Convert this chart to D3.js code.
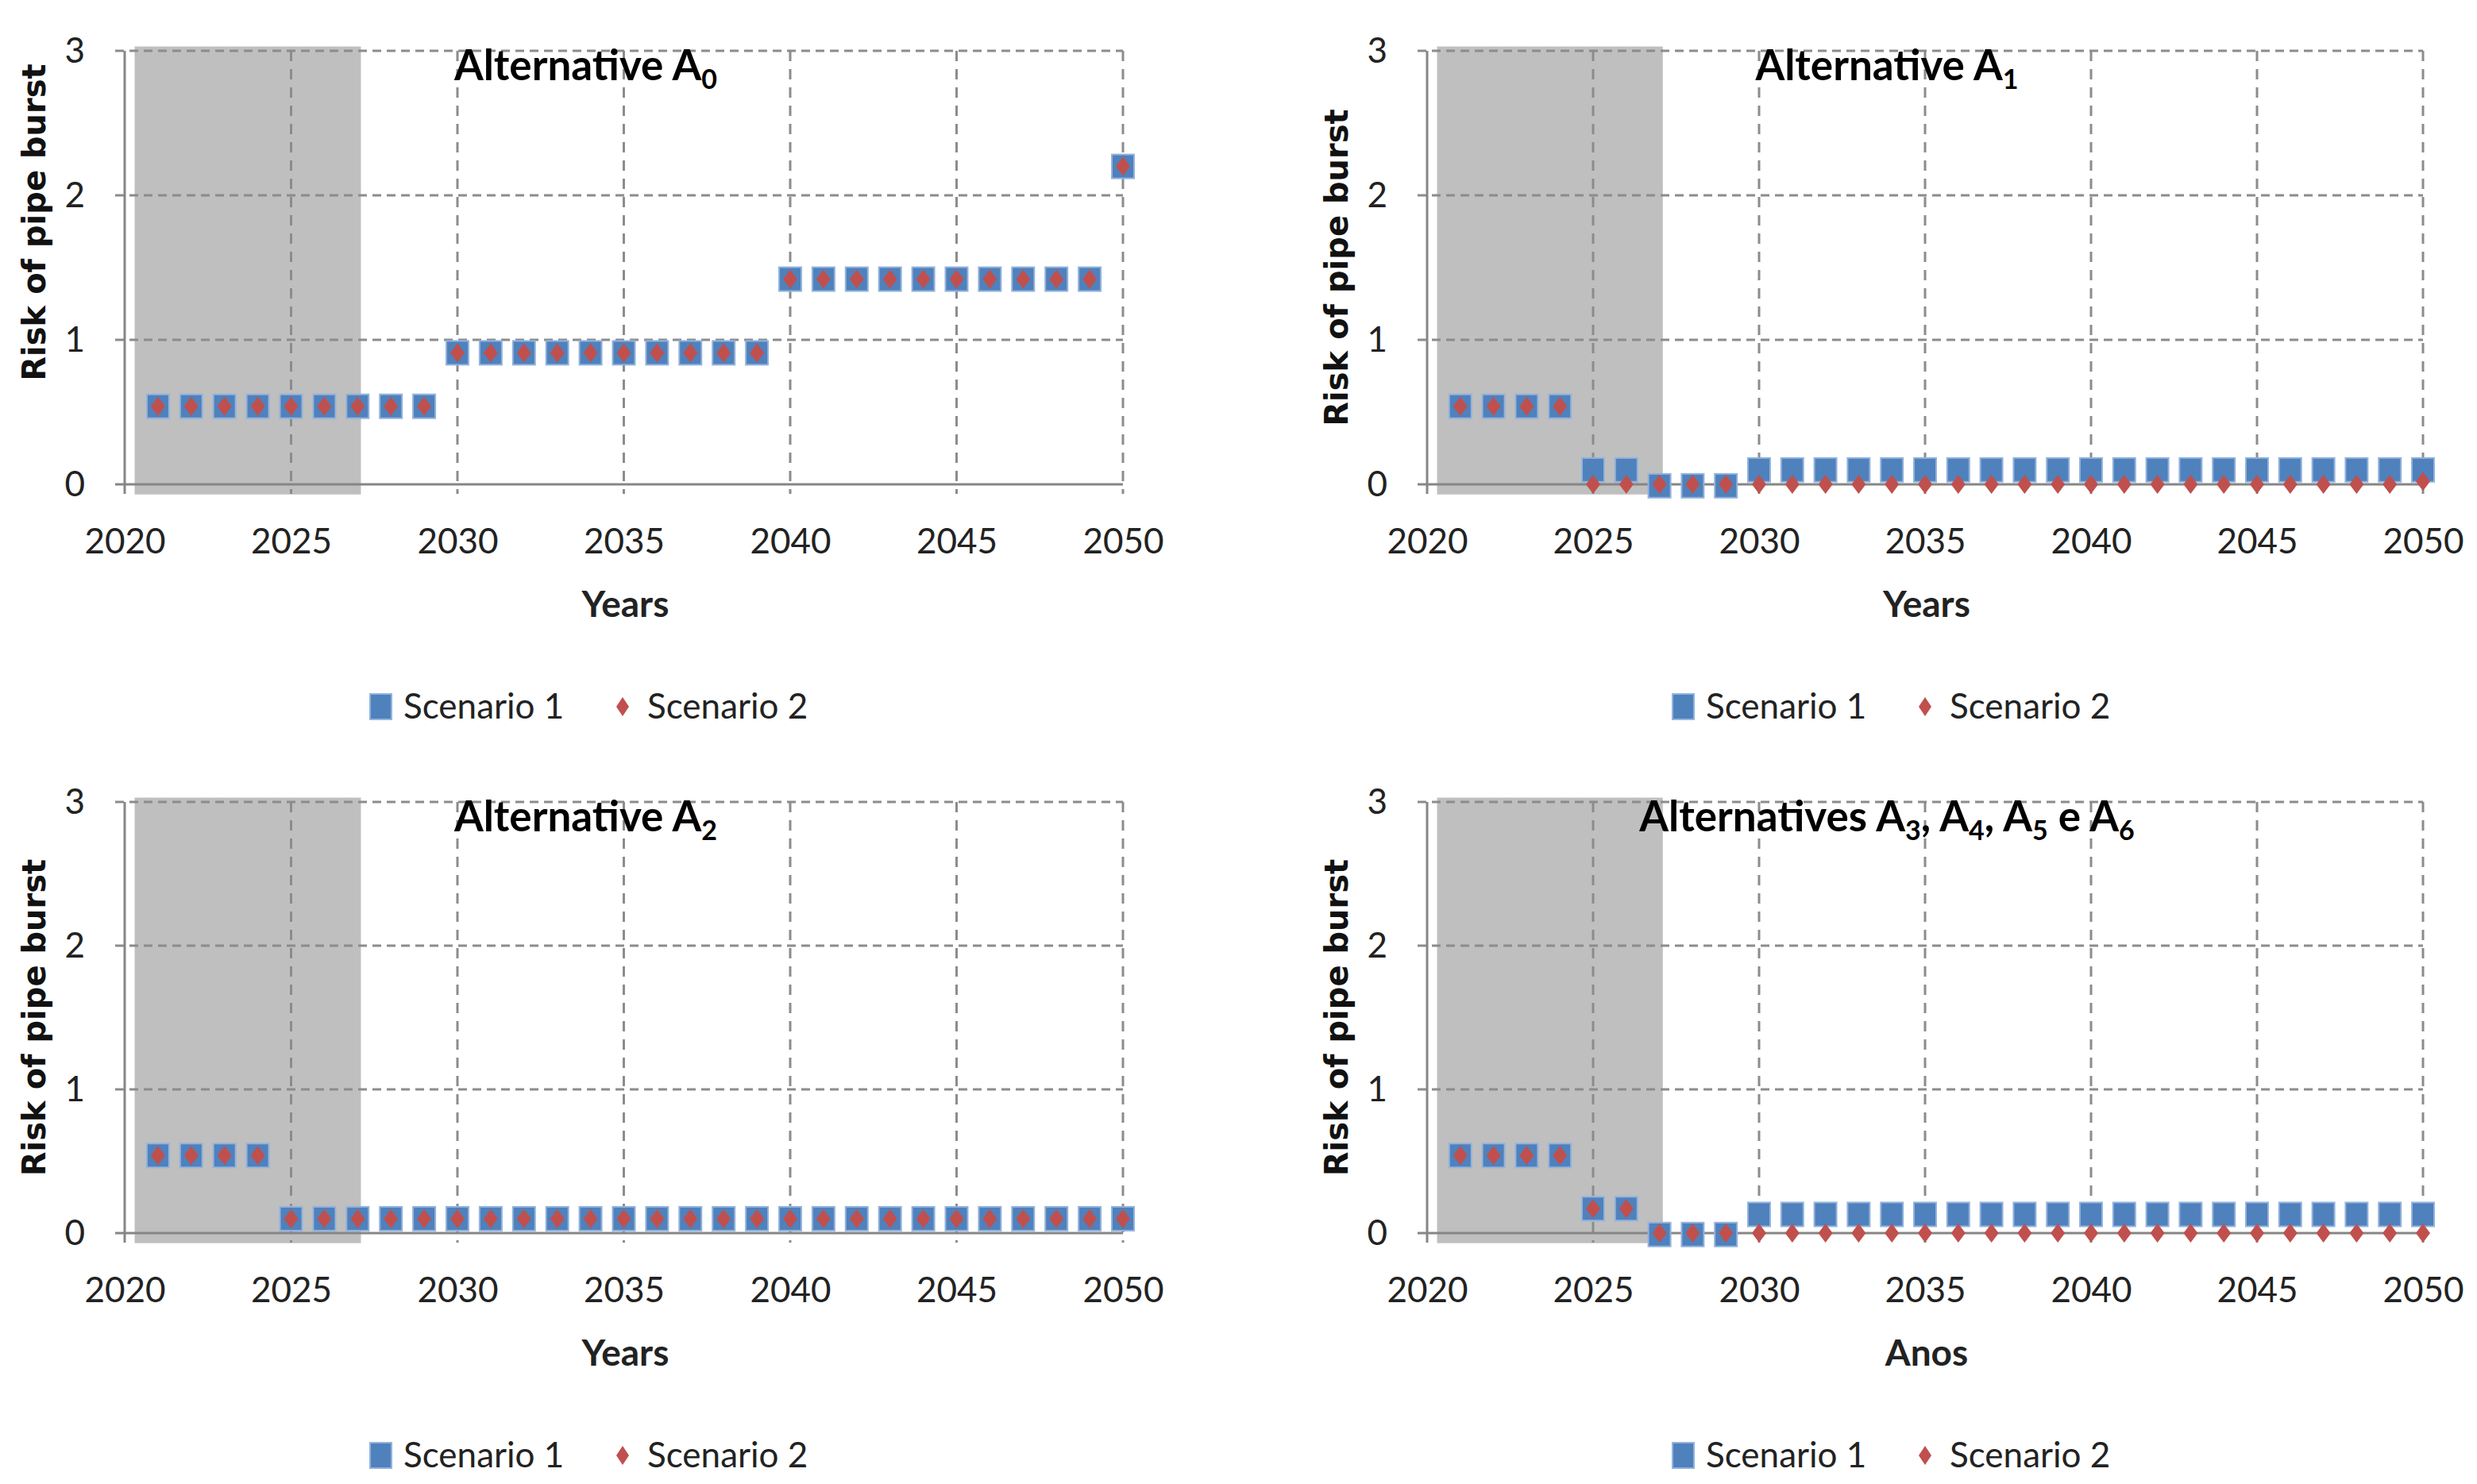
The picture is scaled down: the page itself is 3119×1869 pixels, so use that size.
<!DOCTYPE html>
<html>
<head>
<meta charset="utf-8">
<script src="https://cdn.jsdelivr.net/npm/d3@7"></script>
<style>
  body { margin: 0; background: #fff; }
</style>
</head>
<body>
<div id="vis"></div>
<script>
// data (risk of pipe burst per year)
let years = [2021, 2022, 2023, 2024, 2025, 2026, 2027, 2028, 2029, 2030,
             2031, 2032, 2033, 2034, 2035, 2036, 2037, 2038, 2039, 2040,
             2041, 2042, 2043, 2044, 2045, 2046, 2047, 2048, 2049, 2050];

let a0Scen1 = [0.54, 0.54, 0.54, 0.54, 0.54, 0.54, 0.54, 0.54, 0.54, 0.91,
               0.91, 0.91, 0.91, 0.91, 0.91, 0.91, 0.91, 0.91, 0.91, 1.42,
               1.42, 1.42, 1.42, 1.42, 1.42, 1.42, 1.42, 1.42, 1.42, 2.2];
let a0Scen2 = [0.54, 0.54, 0.54, 0.54, 0.54, 0.54, 0.54, 0.54, 0.54, 0.91,
               0.91, 0.91, 0.91, 0.91, 0.91, 0.91, 0.91, 0.91, 0.91, 1.42,
               1.42, 1.42, 1.42, 1.42, 1.42, 1.42, 1.42, 1.42, 1.42, 2.2];

let a1Scen1 = [0.54, 0.54, 0.54, 0.54, 0.1, 0.1, -0.01, -0.01, -0.01, 0.1,
               0.1, 0.1, 0.1, 0.1, 0.1, 0.1, 0.1, 0.1, 0.1, 0.1,
               0.1, 0.1, 0.1, 0.1, 0.1, 0.1, 0.1, 0.1, 0.1, 0.1];
let a1Scen2 = [0.54, 0.54, 0.54, 0.54, 0, 0, 0, 0, 0, 0,
               0, 0, 0, 0, 0, 0, 0, 0, 0, 0,
               0, 0, 0, 0, 0, 0, 0, 0, 0, 0.02];

let a2Scen1 = [0.54, 0.54, 0.54, 0.54, 0.1, 0.1, 0.1, 0.1, 0.1, 0.1,
               0.1, 0.1, 0.1, 0.1, 0.1, 0.1, 0.1, 0.1, 0.1, 0.1,
               0.1, 0.1, 0.1, 0.1, 0.1, 0.1, 0.1, 0.1, 0.1, 0.1];
let a2Scen2 = [0.54, 0.54, 0.54, 0.54, 0.1, 0.1, 0.1, 0.1, 0.1, 0.1,
               0.1, 0.1, 0.1, 0.1, 0.1, 0.1, 0.1, 0.1, 0.1, 0.1,
               0.1, 0.1, 0.1, 0.1, 0.1, 0.1, 0.1, 0.1, 0.1, 0.1];

let a36Scen1 = [0.54, 0.54, 0.54, 0.54, 0.17, 0.17, -0.01, -0.01, -0.01, 0.13,
                0.13, 0.13, 0.13, 0.13, 0.13, 0.13, 0.13, 0.13, 0.13, 0.13,
                0.13, 0.13, 0.13, 0.13, 0.13, 0.13, 0.13, 0.13, 0.13, 0.13];
let a36Scen2 = [0.54, 0.54, 0.54, 0.54, 0.17, 0.17, 0, 0, 0, 0,
                0, 0, 0, 0, 0, 0, 0, 0, 0, 0,
                0, 0, 0, 0, 0, 0, 0, 0, 0, 0];

let xTicks = [2020, 2025, 2030, 2035, 2040, 2045, 2050];
let yTicks = [0, 1, 2, 3];
let shadedYears = [2020.3, 2027.1];   // grey period
let legendLabels = ['Scenario 1', 'Scenario 2'];

// title pieces: [text, subscript?]
let titleA0 = [['Alternative A', false], ['0', true]];
let titleA1 = [['Alternative A', false], ['1', true]];
let titleA2 = [['Alternative A', false], ['2', true]];
let titleA36 = [['Alternatives A', false], ['3', true], [', A', false], ['4', true],
                [', A', false], ['5', true], [' e A', false], ['6', true]];

let xTitles = ['Years', 'Years', 'Years', 'Anos'];
let yTitle = 'Risk of pipe burst';

// page
let W = 3119, H = 1869;
let svg = d3.select('#vis')
  .append('svg')
  .attr('width', W)
  .attr('height', H)
  .style('background-color', 'white');

let blue = '#4F81BD', red = '#C0504D', grid = '#8c8c8c', axisCol = '#868686';
let labelFont = 'Lato, "Open Sans", sans-serif';

// where each panel sits
let panels = [
  { left: 157, right: 1414, top: 64, bottom: 610, s1: a0Scen1, s2: a0Scen2, title: titleA0, xt: xTitles[0], yShift: -57 },
  { left: 1797, right: 3051, top: 64, bottom: 610, s1: a1Scen1, s2: a1Scen2, title: titleA1, xt: xTitles[1], yShift: 0 },
  { left: 157, right: 1414, top: 1010, bottom: 1553, s1: a2Scen1, s2: a2Scen2, title: titleA2, xt: xTitles[2], yShift: 0 },
  { left: 1797, right: 3051, top: 1010, bottom: 1553, s1: a36Scen1, s2: a36Scen2, title: titleA36, xt: xTitles[3], yShift: 0 }
];

panels.forEach(drawPanel);

function diamond(w, h) {
  return 'M0,' + (-h) + 'L' + w + ',0L0,' + h + 'L' + (-w) + ',0Z';
}

function drawPanel(p) {
  let x = d3.scaleLinear().domain([2020, 2050]).range([p.left, p.right]);
  let y = d3.scaleLinear().domain([0, 3]).range([p.bottom, p.top]);
  let g = svg.append('g');

  // grey band
  g.append('rect')
    .attr('x', x(shadedYears[0]))
    .attr('y', y(3.03))
    .attr('width', x(shadedYears[1]) - x(shadedYears[0]))
    .attr('height', y(-0.07) - y(3.03))
    .attr('fill', '#bfbfbf');

  // dashed grid, sticking out past the axes like excel ticks
  g.selectAll('.hgrid')
    .data(yTicks.filter(d => d > 0))
    .enter().append('line')
    .attr('x1', p.left - 12).attr('x2', p.right)
    .attr('y1', d => y(d)).attr('y2', d => y(d))
    .attr('stroke', grid).attr('stroke-width', 3)
    .attr('stroke-dasharray', '11,7');

  g.selectAll('.vgrid')
    .data(xTicks.filter(d => d > 2020))
    .enter().append('line')
    .attr('x1', d => x(d)).attr('x2', d => x(d))
    .attr('y1', p.top).attr('y2', p.bottom + 12)
    .attr('stroke', grid).attr('stroke-width', 3)
    .attr('stroke-dasharray', '13,10');

  // solid axis lines
  g.append('line')
    .attr('x1', p.left - 12).attr('x2', p.right)
    .attr('y1', y(0)).attr('y2', y(0))
    .attr('stroke', axisCol).attr('stroke-width', 3);
  g.append('line')
    .attr('x1', x(2020)).attr('x2', x(2020))
    .attr('y1', p.top).attr('y2', p.bottom + 12)
    .attr('stroke', axisCol).attr('stroke-width', 3);

  // tick labels through d3 axes
  let xa = g.append('g')
    .attr('transform', 'translate(0,' + p.bottom + ')')
    .call(d3.axisBottom(x).tickValues(xTicks).tickFormat(d3.format('d')).tickSize(0).tickPadding(56));
  let ya = g.append('g')
    .attr('transform', 'translate(' + p.left + ',0)')
    .call(d3.axisLeft(y).tickValues(yTicks).tickFormat(d3.format('d')).tickSize(0).tickPadding(50));
  [xa, ya].forEach(a => {
    a.select('.domain').remove();
    a.selectAll('text')
      .attr('font-family', labelFont)
      .attr('font-size', 44)
      .attr('fill', '#222');
  });

  // scenario 1 squares
  g.selectAll('.s1')
    .data(years.map((d, i) => [d, p.s1[i]]))
    .enter().append('rect')
    .attr('x', d => x(d[0]) - 14)
    .attr('y', d => y(d[1]) - 15)
    .attr('width', 28).attr('height', 30)
    .attr('fill', blue)
    .attr('stroke', '#93b3dc').attr('stroke-width', 2);

  // scenario 2 diamonds
  g.selectAll('.s2')
    .data(years.map((d, i) => [d, p.s2[i]]))
    .enter().append('path')
    .attr('d', diamond(9, 12))
    .attr('transform', d => 'translate(' + x(d[0]) + ',' + y(d[1]) + ')')
    .attr('fill', red);

  // panel title with subscripts
  let t = g.append('text')
    .attr('x', (p.left + p.right) / 2 - 48)
    .attr('y', p.top + 37)
    .attr('text-anchor', 'middle')
    .attr('font-family', labelFont)
    .attr('font-weight', 'bold')
    .attr('fill', '#000');
  let prevSub = false;
  p.title.forEach(s => {
    let shift = (s[1] ? 11 : 0) - (prevSub ? 11 : 0);
    t.append('tspan')
      .attr('font-size', s[1] ? 34 : 53)
      .attr('dy', shift)
      .text(s[0]);
    prevSub = s[1];
  });

  // axis titles
  g.append('text')
    .attr('x', (p.left + p.right) / 2 + 2)
    .attr('y', p.bottom + 167)
    .attr('text-anchor', 'middle')
    .attr('font-family', labelFont)
    .attr('font-weight', 'bold')
    .attr('font-size', 46)
    .attr('fill', '#222')
    .text(p.xt);

  g.append('text')
    .attr('transform', 'translate(' + (p.left - 100) + ',' + ((p.top + p.bottom) / 2 + p.yShift) + ') rotate(-90)')
    .attr('text-anchor', 'middle')
    .attr('font-family', '"DejaVu Sans", Verdana, sans-serif')
    .attr('font-weight', 'bold')
    .attr('font-size', 40)
    .attr('fill', '#111')
    .text(yTitle);

  // legend
  let ly = p.bottom + 280;
  let lg = g.append('g');
  lg.append('rect')
    .attr('x', p.left + 309).attr('y', ly - 16)
    .attr('width', 27).attr('height', 32)
    .attr('fill', blue).attr('stroke', '#93b3dc').attr('stroke-width', 2);
  lg.append('text')
    .attr('x', p.left + 351).attr('y', ly + 15)
    .attr('font-family', labelFont).attr('font-size', 44).attr('fill', '#222')
    .text(legendLabels[0]);
  lg.append('path')
    .attr('d', diamond(8, 12))
    .attr('transform', 'translate(' + (p.left + 627) + ',' + ly + ')')
    .attr('fill', red);
  lg.append('text')
    .attr('x', p.left + 658).attr('y', ly + 15)
    .attr('font-family', labelFont).attr('font-size', 44).attr('fill', '#222')
    .text(legendLabels[1]);
}
</script>
</body>
</html>
